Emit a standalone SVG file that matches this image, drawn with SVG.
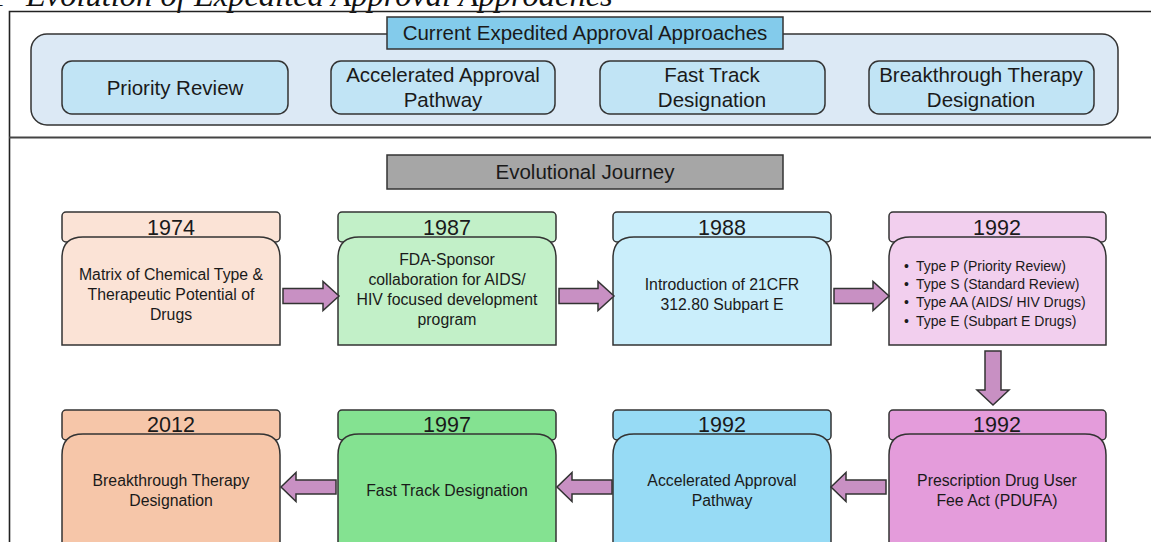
<svg xmlns="http://www.w3.org/2000/svg" width="1151" height="542" viewBox="0 0 1151 542">
<defs>
<style>
.frame{fill:none;stroke:#222;stroke-width:1.6}
.ln{stroke:#333;stroke-width:1.5}
.t{font-family:"Liberation Sans",Arial,sans-serif;fill:#1a1a1a;text-anchor:middle}
.h{font-size:20.5px}
.yr{font-size:21.5px}
.b{font-size:15.8px}
.s{font-size:14px;text-anchor:start}
.arr{fill:#c890c3;stroke:#333;stroke-width:1.5;stroke-linejoin:miter}
</style>
</defs>
<rect width="1151" height="542" fill="#fff"/>
<text x="0" y="6" font-family="'Liberation Serif','Times New Roman',serif" font-style="italic" font-size="32.5" fill="#111"><tspan x="-10">1</tspan><tspan x="8">–</tspan><tspan x="26">Evolution of Expedited Approval Approaches</tspan></text>
<path class="frame" d="M1160,11.5 H9.5 V560"/>
<line x1="9" y1="137.5" x2="1160" y2="137.5" stroke="#444" stroke-width="2"/>

<g id="current-approaches">
<rect class="ln" x="31" y="34" width="1087" height="91" rx="16" fill="#dce9f5"/>
<rect class="ln" x="387" y="17" width="396" height="32" fill="#83cbeb"/>
<text class="t h" x="585" y="40">Current Expedited Approval Approaches</text>
</g>
<g id="priority-review">
<rect class="ln" x="62" y="61" width="226" height="53" rx="10" fill="#c1e4f5"/>
<text class="t h" x="175" y="95">Priority Review</text>
</g>
<g id="accelerated-approval">
<rect class="ln" x="331" y="61" width="224" height="53" rx="10" fill="#c1e4f5"/>
<text class="t h" x="443" y="82">Accelerated Approval</text>
<text class="t h" x="443" y="107">Pathway</text>
</g>
<g id="fast-track">
<rect class="ln" x="600" y="61" width="225" height="53" rx="10" fill="#c1e4f5"/>
<text class="t h" x="712" y="82">Fast Track</text>
<text class="t h" x="712" y="107">Designation</text>
</g>
<g id="breakthrough">
<rect class="ln" x="869" y="61" width="225" height="53" rx="10" fill="#c1e4f5"/>
<text class="t h" x="981" y="82">Breakthrough Therapy</text>
<text class="t h" x="981" y="107">Designation</text>
</g>

<g id="evolutional-journey">
<rect class="ln" x="387" y="155" width="396" height="34" fill="#a6a6a6"/>
<text class="t h" x="585" y="179">Evolutional Journey</text>
</g>

<g id="n1974">
<rect class="ln" x="62" y="212" width="218" height="30" rx="4" fill="#fbe3d6"/>
<text class="t yr" x="171" y="235">1974</text>
<path class="ln" d="M62,345 V258 Q62,237 83,237 H259 Q280,237 280,258 V345 Z" fill="#fbe3d6"/>
<text class="t b" x="171" y="280">Matrix of Chemical Type &amp;</text>
<text class="t b" x="171" y="300">Therapeutic Potential of</text>
<text class="t b" x="171" y="320">Drugs</text>
</g>
<g id="n1987">
<rect class="ln" x="338" y="212" width="218" height="30" rx="4" fill="#c2f0c8"/>
<text class="t yr" x="447" y="235">1987</text>
<path class="ln" d="M338,345 V258 Q338,237 359,237 H535 Q556,237 556,258 V345 Z" fill="#c2f0c8"/>
<text class="t b" x="447" y="265">FDA-Sponsor</text>
<text class="t b" x="447" y="285">collaboration for AIDS/</text>
<text class="t b" x="447" y="305">HIV focused development</text>
<text class="t b" x="447" y="325">program</text>
</g>
<g id="n1988">
<rect class="ln" x="613" y="212" width="218" height="30" rx="4" fill="#caeefb"/>
<text class="t yr" x="722" y="235">1988</text>
<path class="ln" d="M613,345 V258 Q613,237 634,237 H810 Q831,237 831,258 V345 Z" fill="#caeefb"/>
<text class="t b" x="722" y="290">Introduction of 21CFR</text>
<text class="t b" x="722" y="310">312.80 Subpart E</text>
</g>
<g id="n1992a">
<rect class="ln" x="889" y="212" width="217" height="30" rx="4" fill="#f2cfee"/>
<text class="t yr" x="997" y="235">1992</text>
<path class="ln" d="M889,345 V258 Q889,237 910,237 H1085 Q1106,237 1106,258 V345 Z" fill="#f2cfee"/>
<text class="t s" x="904" y="271">•</text><text class="t s" x="916" y="271">Type P (Priority Review)</text>
<text class="t s" x="904" y="289">•</text><text class="t s" x="916" y="289">Type S (Standard Review)</text>
<text class="t s" x="904" y="307">•</text><text class="t s" x="916" y="307">Type AA (AIDS/ HIV Drugs)</text>
<text class="t s" x="904" y="326">•</text><text class="t s" x="916" y="326">Type E (Subpart E Drugs)</text>
</g>

<g id="n2012">
<rect class="ln" x="62" y="410" width="218" height="30" rx="4" fill="#f6c6a9"/>
<text class="t yr" x="171" y="432">2012</text>
<path class="ln" d="M62,560 V455 Q62,434 83,434 H259 Q280,434 280,455 V560 Z" fill="#f6c6a9"/>
<text class="t b" x="171" y="486">Breakthrough Therapy</text>
<text class="t b" x="171" y="506">Designation</text>
</g>
<g id="n1997">
<rect class="ln" x="338" y="410" width="218" height="30" rx="4" fill="#84e291"/>
<text class="t yr" x="447" y="432">1997</text>
<path class="ln" d="M338,560 V455 Q338,434 359,434 H535 Q556,434 556,455 V560 Z" fill="#84e291"/>
<text class="t b" x="447" y="496">Fast Track Designation</text>
</g>
<g id="n1992b">
<rect class="ln" x="613" y="410" width="218" height="30" rx="4" fill="#97dbf5"/>
<text class="t yr" x="722" y="432">1992</text>
<path class="ln" d="M613,560 V455 Q613,434 634,434 H810 Q831,434 831,455 V560 Z" fill="#97dbf5"/>
<text class="t b" x="722" y="486">Accelerated Approval</text>
<text class="t b" x="722" y="506">Pathway</text>
</g>
<g id="n1992c">
<rect class="ln" x="889" y="410" width="217" height="30" rx="4" fill="#e49cdb"/>
<text class="t yr" x="997" y="432">1992</text>
<path class="ln" d="M889,560 V455 Q889,434 910,434 H1085 Q1106,434 1106,455 V560 Z" fill="#e49cdb"/>
<text class="t b" x="997" y="486">Prescription Drug User</text>
<text class="t b" x="997" y="506">Fee Act (PDUFA)</text>
</g>

<g id="connectors">
<path class="arr" d="M283,288.5 H323 V281.5 L339,296 L323,310.5 V303.5 H283 Z"/>
<path class="arr" d="M559,288.5 H598 V281.5 L614,296 L598,310.5 V303.5 H559 Z"/>
<path class="arr" d="M834,288.5 H873 V281.5 L889,296 L873,310.5 V303.5 H834 Z"/>
<path class="arr" d="M985,351 H1001 V390 H1009 L993,405 L977,390 H985 Z"/>
<path class="arr" d="M886,480 H846 V472.5 L831,487 L846,501.5 V494 H886 Z"/>
<path class="arr" d="M612,480 H572 V472.5 L557,487 L572,501.5 V494 H612 Z"/>
<path class="arr" d="M336,480 H296 V472.5 L281,487 L296,501.5 V494 H336 Z"/>
</g>
</svg>
